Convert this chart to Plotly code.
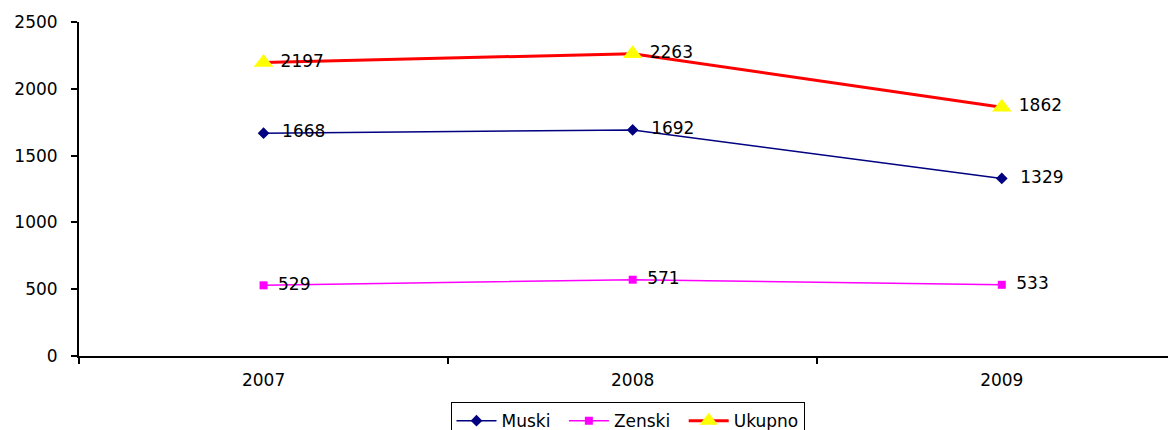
import plotly.graph_objects as go

years = ["2007", "2008", "2009"]
muski = [1668, 1692, 1329]
zenski = [529, 571, 533]
ukupno = [2197, 2263, 1862]
y_ticks = [0, 500, 1000, 1500, 2000, 2500]

FONT = "DejaVu Sans"
LBL = dict(family=FONT, size=17, color="black")


def labels(vals, pad):
    return [pad + str(v) for v in vals]


fig = go.Figure()
fig.add_trace(go.Scatter(
    x=years, y=muski, name="Muski\u2002", mode="lines+markers+text",
    line=dict(color="#000080", width=1.5),
    marker=dict(symbol="diamond", size=9, color="#000080"),
    text=labels(muski, "\u2002\u2009"), textposition="middle right", textfont=LBL,
))
fig.add_trace(go.Scatter(
    x=years, y=zenski, name="Zenski\u2002", mode="lines+markers+text",
    line=dict(color="#FF00FF", width=1.5),
    marker=dict(symbol="square", size=8, color="#FF00FF"),
    text=labels(zenski, "\u2002"), textposition="middle right", textfont=LBL,
))
fig.add_trace(go.Scatter(
    x=years, y=ukupno, name="Ukupno", mode="lines+markers+text",
    line=dict(color="#FF0000", width=3),
    marker=dict(symbol="triangle-up", size=17, color="#FFFF00"),
    text=labels(ukupno, " "), textposition="middle right", textfont=LBL,
))

# page body has an 8px margin, so the figure is drawn at (8, 8)
fig.update_layout(
    width=1168, height=422,
    margin=dict(l=71, r=0, t=14, b=74, autoexpand=False),
    paper_bgcolor="white", plot_bgcolor="white",
    font=dict(family=FONT, size=17, color="black"),
    showlegend=True,
    legend=dict(
        orientation="h", x=0.5, xanchor="center", y=-0.138, yanchor="top",
        bordercolor="black", borderwidth=1, font=dict(family=FONT, size=17),
        itemwidth=40, tracegroupgap=0,
    ),
)
fig.update_xaxes(
    type="category", range=[-0.5, 2.472], tickson="boundaries",
    ticks="outside", ticklen=6, tickcolor="black", tickwidth=2,
    showline=True, linecolor="black", linewidth=2, showgrid=False,
    ticklabelstandoff=8, tickfont=dict(family=FONT, size=17),
    automargin=False,
)
fig.update_yaxes(
    range=[0, 2500], tickvals=y_ticks, ticks="outside", ticklen=6,
    tickcolor="black", tickwidth=2, showline=True, linecolor="black",
    linewidth=2, showgrid=False, zeroline=False,
    ticklabelstandoff=10, tickfont=dict(family=FONT, size=17),
    automargin=False,
)

fig.write_html("out.html")
